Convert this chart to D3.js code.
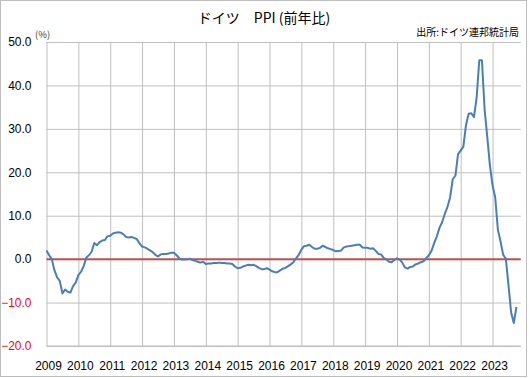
<!DOCTYPE html>
<html>
<head>
<meta charset="utf-8">
<script src="https://cdn.jsdelivr.net/npm/d3@7"></script>
<style>
  body { margin: 0; background: #fff; }
  text { font-family: "Liberation Sans", Arial, sans-serif; }
  .jp { font-family: "Noto Sans CJK JP", sans-serif; }
</style>
</head>
<body>
<div id="chart"></div>
<script>
// year-on-year % change, monthly, Jan 2009 - Oct 2023
const years = ["2009","2010","2011","2012","2013","2014","2015","2016","2017","2018","2019","2020","2021","2022","2023"];
const ppi2009 = [2.0, 0.9, 0.0, -2.6, -4.2, -5.0, -7.9, -7.0, -7.5, -7.7, -6.2, -5.4];
const ppi2010 = [-3.7, -2.9, -1.6, 0.4, 0.9, 1.7, 3.7, 3.2, 3.9, 4.3, 4.4, 5.3];
const ppi2011 = [5.4, 5.9, 6.1, 6.2, 6.1, 5.7, 5.1, 5.0, 5.1, 4.9, 4.6, 3.7];
const ppi2012 = [2.9, 2.7, 2.4, 2.0, 1.6, 1.0, 0.6, 1.1, 1.2, 1.2, 1.3, 1.5];
const ppi2013 = [1.5, 0.9, 0.2, -0.1, -0.1, 0.0, 0.1, -0.2, -0.4, -0.6, -0.8, -0.6];
const ppi2014 = [-1.1, -1.0, -1.0, -0.9, -0.9, -0.8, -0.9, -0.9, -1.0, -1.0, -1.1, -1.7];
const ppi2015 = [-2.1, -2.0, -1.7, -1.5, -1.3, -1.4, -1.3, -1.6, -2.0, -2.3, -2.3, -2.1];
const ppi2016 = [-2.4, -2.8, -3.0, -3.0, -2.6, -2.2, -2.0, -1.6, -1.2, -0.7, 0.2, 1.0];
const ppi2017 = [2.2, 3.0, 3.1, 3.3, 2.8, 2.4, 2.4, 2.6, 3.1, 2.8, 2.5, 2.3];
const ppi2018 = [2.1, 1.8, 1.9, 2.0, 2.7, 2.9, 3.0, 3.1, 3.2, 3.3, 3.3, 2.7];
const ppi2019 = [2.6, 2.6, 2.4, 2.5, 1.9, 1.2, 1.1, 0.3, -0.1, -0.6, -0.7, -0.2];
const ppi2020 = [0.2, -0.1, -0.8, -1.9, -2.2, -1.8, -1.7, -1.2, -1.0, -0.7, -0.5, 0.2];
const ppi2021 = [0.9, 1.9, 3.7, 5.2, 7.2, 8.5, 10.4, 12.0, 14.2, 18.4, 19.2, 24.2];
const ppi2022 = [25.0, 25.9, 30.9, 33.5, 33.6, 32.7, 37.2, 45.8, 45.8, 34.5, 28.2, 21.6];
const ppi2023 = [17.0, 14.2, 6.8, 4.1, 1.0, 0.1, -6.0, -12.3, -14.7, -11.0];
const yTicks = [-20, -10, 0, 10, 20, 30, 40, 50];

const values = [].concat(ppi2009, ppi2010, ppi2011, ppi2012, ppi2013, ppi2014, ppi2015,
  ppi2016, ppi2017, ppi2018, ppi2019, ppi2020, ppi2021, ppi2022, ppi2023);

const W = 529, H = 378;
const plot = { left: 46.5, right: 520.7, top: 42, bottom: 346 };

const svg = d3.select("#chart").append("svg")
    .attr("width", W)
    .attr("height", H);

// outer frame
svg.append("rect")
    .attr("x", 0.5).attr("y", 0.5)
    .attr("width", 526).attr("height", 376)
    .attr("fill", "#fff")
    .attr("stroke", "#bfbfbf");

const x = d3.scaleLinear()
    .domain([0, 178.6])
    .range([plot.left, plot.right]);

const y = d3.scaleLinear()
    .domain([-20, 50])
    .range([plot.bottom, plot.top]);

// Y axis with horizontal gridlines
const yAxis = svg.append("g")
    .attr("transform", `translate(${plot.left},0)`)
    .call(d3.axisLeft(y)
        .tickValues(yTicks)
        .tickSize(-(plot.right - plot.left))
        .tickPadding(15)
        .tickFormat(d3.format(".1f")));
yAxis.select(".domain").remove();
yAxis.selectAll(".tick line").attr("stroke", "#bfbfbf");
yAxis.selectAll(".tick text")
    .style("font-size", "12px")
    .attr("fill", d => d < 0 ? "#ff0000" : "#000");

// X axis: a tick every 12 months
const xTickIdx = years.map((d, i) => i * 12);
const xAxis = svg.append("g")
    .attr("transform", `translate(0,${plot.bottom})`)
    .call(d3.axisBottom(x)
        .tickValues(xTickIdx)
        .tickSize(-(plot.bottom - plot.top))
        .tickPadding(15)
        .tickFormat((d, i) => years[i]));
xAxis.select(".domain").remove();
xAxis.selectAll(".tick line").attr("stroke", "#bfbfbf");
xAxis.selectAll(".tick text")
    .style("font-size", "12px")
    .attr("dx", "1.5")
    .attr("fill", "#000");

// bottom axis line
svg.append("line")
    .attr("x1", plot.left).attr("x2", plot.right)
    .attr("y1", y(-20)).attr("y2", y(-20))
    .attr("stroke", "#bfbfbf");

// zero line
svg.append("line")
    .attr("x1", plot.left).attr("x2", plot.right)
    .attr("y1", y(0)).attr("y2", y(0))
    .attr("stroke", "#c0504d")
    .attr("stroke-width", 2);

// PPI line
const line = d3.line()
    .x((d, i) => x(i))
    .y(d => y(d));

svg.append("path")
    .datum(values)
    .attr("fill", "none")
    .attr("stroke", "#4a7ebb")
    .attr("stroke-width", 2)
    .attr("stroke-linejoin", "round")
    .attr("d", line);

// titles
svg.append("text")
    .attr("class", "jp")
    .attr("x", 264).attr("y", 23)
    .attr("text-anchor", "middle")
    .style("font-size", "14px")
    .attr("fill", "#000")
    .text("ドイツ　PPI (前年比)");

svg.append("text")
    .attr("class", "jp")
    .attr("x", 519).attr("y", 36)
    .attr("text-anchor", "end")
    .style("font-size", "10px")
    .attr("fill", "#000")
    .text("出所:ドイツ連邦統計局");

svg.append("text")
    .attr("class", "jp")
    .attr("x", 35).attr("y", 38)
    .style("font-size", "9.5px")
    .attr("fill", "#404040")
    .text("(%)");
</script>
</body>
</html>
